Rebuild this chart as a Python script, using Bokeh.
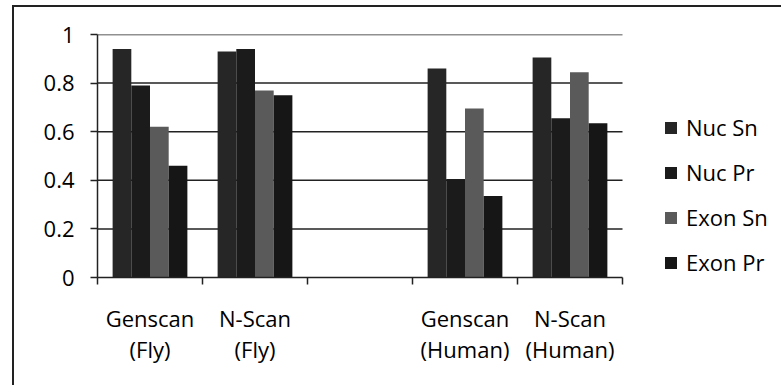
import numpy as np
from bokeh.plotting import figure
from bokeh.models import ColumnDataSource, FixedTicker, Legend, LegendItem, Range1d
from bokeh.transform import dodge
from bokeh.embed import file_html
from bokeh.resources import INLINE

categories = ["Genscan\n(Fly)", "N-Scan\n(Fly)", "", "Genscan\n(Human)", "N-Scan\n(Human)"]
series_names = ["Nuc Sn", "Nuc Pr", "Exon Sn", "Exon Pr"]
nuc_sn = [0.94, 0.93, np.nan, 0.86, 0.905]
nuc_pr = [0.79, 0.94, np.nan, 0.405, 0.655]
exon_sn = [0.62, 0.77, np.nan, 0.695, 0.845]
exon_pr = [0.46, 0.75, np.nan, 0.335, 0.635]
y_ticks = [0, 0.2, 0.4, 0.6, 0.8, 1.0]
y_tick_labels = ["0", "0.2", "0.4", "0.6", "0.8", "1"]

colors = ["#262626", "#1b1b1b", "#5a5a5a", "#161616"]
FONT = "Open Sans"
FS = "22px"

n = len(categories)
centers = np.arange(n) + 0.5
source = ColumnDataSource(dict(x=centers, nuc_sn=nuc_sn, nuc_pr=nuc_pr,
                               exon_sn=exon_sn, exon_pr=exon_pr))

# frame spans the legend area too (686 px), categories occupy the first 525 px
x_end = n * 686 / 525
p = figure(width=769, height=380, output_backend="svg", toolbar_location=None,
           x_range=Range1d(0, x_end), y_range=Range1d(0, 1),
           min_border_left=83, min_border_right=0, min_border_top=27,
           min_border_bottom=110)
p.margin = (5, 0, 0, 12)
p.styles = {"border-left": "2px solid #222", "border-top": "2px solid #222"}
p.outline_line_color = None
p.background_fill_color = "white"

# horizontal gridlines only across the category area
p.segment(x0=0, x1=n, y0=y_ticks[1:], y1=y_ticks[1:], line_color="#222", line_width=1.5)

bw = 0.178
offsets = [-1.5 * bw, -0.5 * bw, 0.5 * bw, 1.5 * bw]
fields = ["nuc_sn", "nuc_pr", "exon_sn", "exon_pr"]
renderers = []
for f, off, c in zip(fields, offsets, colors):
    r = p.vbar(x=dodge("x", off), top=f, width=bw, bottom=0, source=source,
               fill_color=c, line_color=None)
    renderers.append(r)

# y axis
p.yaxis.ticker = FixedTicker(ticks=y_ticks)
p.yaxis.major_label_overrides = {t: l for t, l in zip(y_ticks, y_tick_labels)}
p.yaxis.minor_tick_line_color = None
p.yaxis.major_tick_out = 7
p.yaxis.major_tick_in = 0
p.yaxis.major_tick_line_color = "#222"
p.yaxis.major_tick_line_width = 1.5
p.yaxis.axis_line_color = "#222"
p.yaxis.axis_line_width = 1.5
p.yaxis.major_label_text_font = FONT
p.yaxis.major_label_text_font_size = FS
p.yaxis.major_label_text_color = "#000"
p.yaxis.major_label_standoff = 16

# x axis: labels at centers, ticks at boundaries
p.xaxis.bounds = (0, n)
p.xaxis.ticker = FixedTicker(ticks=list(centers), minor_ticks=list(np.arange(n + 1)))
p.xaxis.major_label_overrides = {float(c): l for c, l in zip(centers, categories)}
p.xaxis.major_tick_line_color = None
p.xaxis.minor_tick_out = 7
p.xaxis.minor_tick_in = 0
p.xaxis.minor_tick_line_color = "#222"
p.xaxis.minor_tick_line_width = 1.5
p.xaxis.axis_line_color = "#222"
p.xaxis.axis_line_width = 1.5
p.xaxis.major_label_text_font = FONT
p.xaxis.major_label_text_font_size = FS
p.xaxis.major_label_text_color = "#000"
p.xaxis.major_label_standoff = 18
p.xaxis.major_label_text_line_height = 1.05

p.xgrid.grid_line_color = None
p.ygrid.grid_line_color = None

legend = Legend(items=[LegendItem(label=s, renderers=[r]) for s, r in zip(series_names, renderers)],
                location=(566, 0), orientation="vertical",
                glyph_width=15, glyph_height=15, label_height=20, spacing=15,
                label_standoff=8, padding=0, margin=0,
                border_line_color=None, background_fill_alpha=0,
                label_text_font=FONT, label_text_font_size=FS,
                label_text_color="#000")
p.add_layout(legend, "center")

open("out.html", "w").write(file_html(p, INLINE))
